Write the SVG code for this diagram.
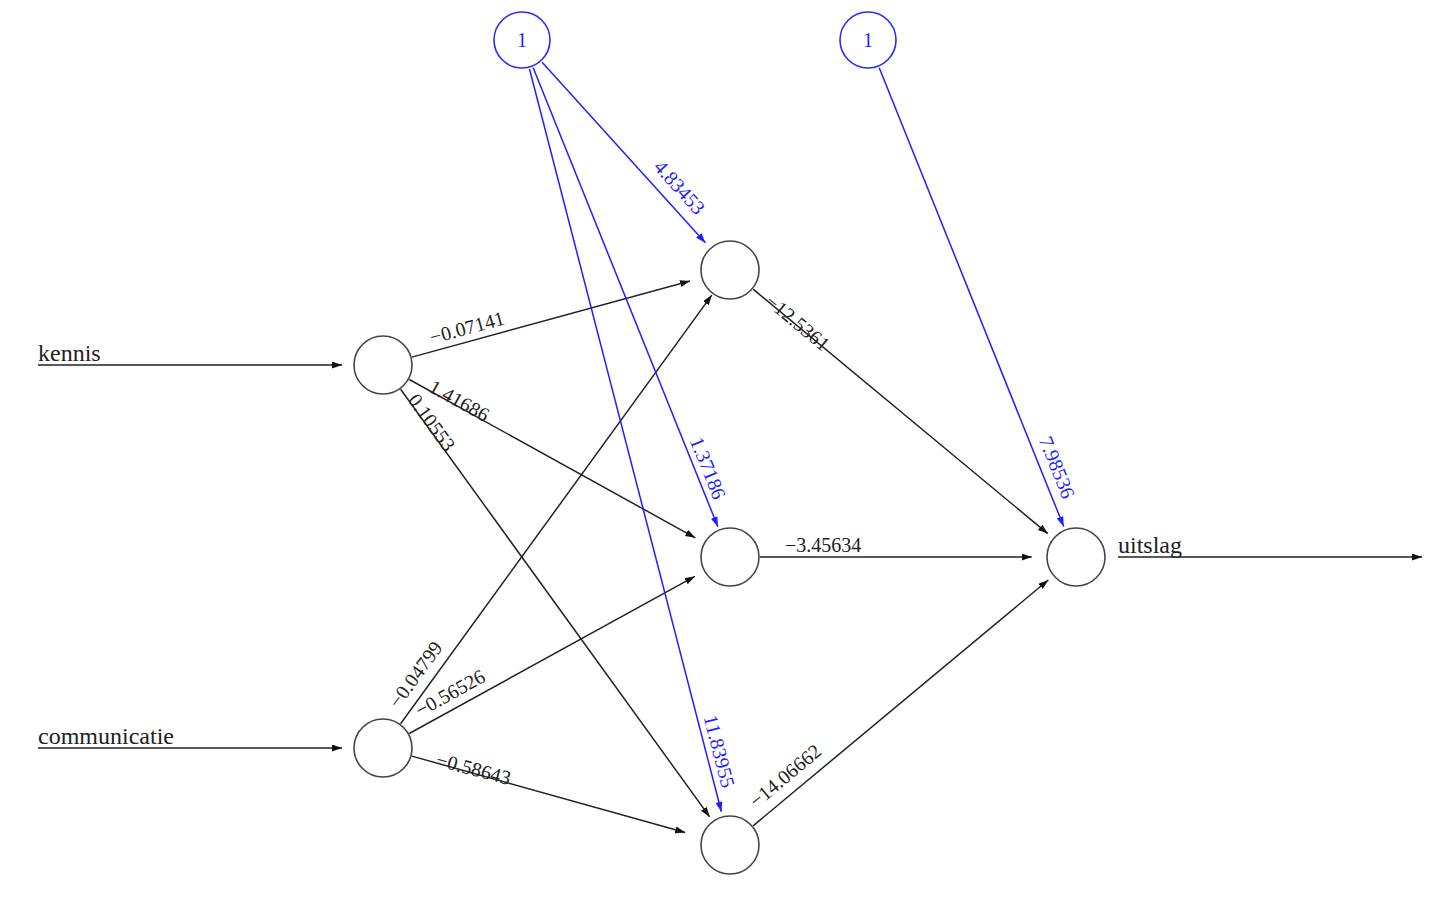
<svg xmlns="http://www.w3.org/2000/svg" width="1440" height="901" viewBox="0 0 1440 901">
<style>
.node{fill:#fff;stroke:#444;stroke-width:1.6}
.bias{fill:#fff;stroke:#2a2aff;stroke-width:1.6}
.e{stroke:#222;stroke-width:1.5;fill:none}
.b{stroke:#1f1fff;stroke-width:1.5;fill:none}
.lab{font-family:"Liberation Serif",serif;font-size:24px;fill:#222}
.w{font-family:"Liberation Serif",serif;font-size:20px;fill:#222}
.wb{font-family:"Liberation Serif",serif;font-size:20px;fill:#1f1fff}
.one{font-family:"Liberation Serif",serif;font-size:20px;fill:#1f1fff;text-anchor:middle}
</style>
<defs>
<marker id="ah" markerUnits="userSpaceOnUse" markerWidth="11" markerHeight="8" refX="10" refY="3.5" orient="auto"><path d="M0,0 L10,3.5 L0,7 z" fill="#111"/></marker>
<marker id="ahb" markerUnits="userSpaceOnUse" markerWidth="11" markerHeight="8" refX="10" refY="3.5" orient="auto"><path d="M0,0 L10,3.5 L0,7 z" fill="#1f1fff"/></marker>
</defs>
<rect width="1440" height="901" fill="#fff"/>
<g id="connectors">
<line class="e" x1="38" y1="365" x2="342" y2="365" marker-end="url(#ah)"/>
<line class="e" x1="38" y1="748" x2="342" y2="748" marker-end="url(#ah)"/>
<line class="e" x1="1118" y1="557" x2="1422" y2="557" marker-end="url(#ah)"/>
<line class="e" x1="411.9" y1="357.1" x2="690" y2="281" marker-end="url(#ah)"/>
<line class="e" x1="409.3" y1="379.5" x2="695.3" y2="537.8" marker-end="url(#ah)"/>
<line class="e" x1="400.6" y1="389.3" x2="709.7" y2="816.9" marker-end="url(#ah)"/>
<line class="e" x1="400.6" y1="723.7" x2="711.8" y2="295.1" marker-end="url(#ah)"/>
<line class="e" x1="409.3" y1="733.5" x2="694.8" y2="576.4" marker-end="url(#ah)"/>
<line class="e" x1="411.9" y1="756.1" x2="685.2" y2="832.5" marker-end="url(#ah)"/>
<line class="e" x1="753.1" y1="289.2" x2="1047.8" y2="533.6" marker-end="url(#ah)"/>
<line class="e" x1="760" y1="557" x2="1031.7" y2="557" marker-end="url(#ah)"/>
<line class="e" x1="753.1" y1="825.8" x2="1048.3" y2="580" marker-end="url(#ah)"/>
<line class="b" x1="542.1" y1="62.3" x2="705.4" y2="242.8" marker-end="url(#ahb)"/>
<line class="b" x1="533.2" y1="67.8" x2="717.9" y2="526.8" marker-end="url(#ahb)"/>
<line class="b" x1="529.5" y1="69" x2="721.4" y2="811.8" marker-end="url(#ahb)"/>
<line class="b" x1="879.2" y1="67.8" x2="1063.7" y2="526.5" marker-end="url(#ahb)"/>
</g>
<g id="edge-labels">
<text class="w" transform="translate(432.1,344.3) rotate(-15.31)">−0.07141</text>
<text class="w" transform="translate(427.6,390.9) rotate(28.95)">1.41686</text>
<text class="w" transform="translate(407.2,400.1) rotate(54.14)">0.10553</text>
<text class="w" transform="translate(398.6,709.4) rotate(-54.03)">−0.04799</text>
<text class="w" transform="translate(420,717.4) rotate(-28.84)">−0.56526</text>
<text class="w" transform="translate(435,765.4) rotate(15.04)">−0.58643</text>
<text class="w" transform="translate(764,303.4) rotate(39.68)">−12.5361</text>
<text class="w" x="785" y="552">−3.45634</text>
<text class="w" transform="translate(756.5,808.6) rotate(-39.78)">−14.06662</text>
<text class="wb" transform="translate(652.7,167.8) rotate(47.88)">4.83453</text>
<text class="wb" transform="translate(689.6,440.4) rotate(68.09)">1.37186</text>
<text class="wb" transform="translate(703.5,717.1) rotate(75.51)">11.83955</text>
<text class="wb" transform="translate(1038.6,439.7) rotate(68.09)">7.98536</text>
</g>
<g id="in-kennis"><circle class="node" cx="383" cy="365" r="29"/><text class="lab" x="38" y="361">kennis</text></g>
<g id="in-communicatie"><circle class="node" cx="383" cy="748" r="29"/><text class="lab" x="38" y="744">communicatie</text></g>
<g id="hidden-1"><circle class="node" cx="730" cy="270" r="29"/></g>
<g id="hidden-2"><circle class="node" cx="730" cy="557" r="29"/></g>
<g id="hidden-3"><circle class="node" cx="730" cy="845" r="29"/></g>
<g id="out-uitslag"><circle class="node" cx="1076" cy="557" r="29"/><text class="lab" x="1118" y="553">uitslag</text></g>
<g id="bias-1"><circle class="bias" cx="522" cy="40" r="28"/><text class="one" x="522" y="47">1</text></g>
<g id="bias-2"><circle class="bias" cx="868" cy="40" r="28"/><text class="one" x="868" y="47">1</text></g>
</svg>
